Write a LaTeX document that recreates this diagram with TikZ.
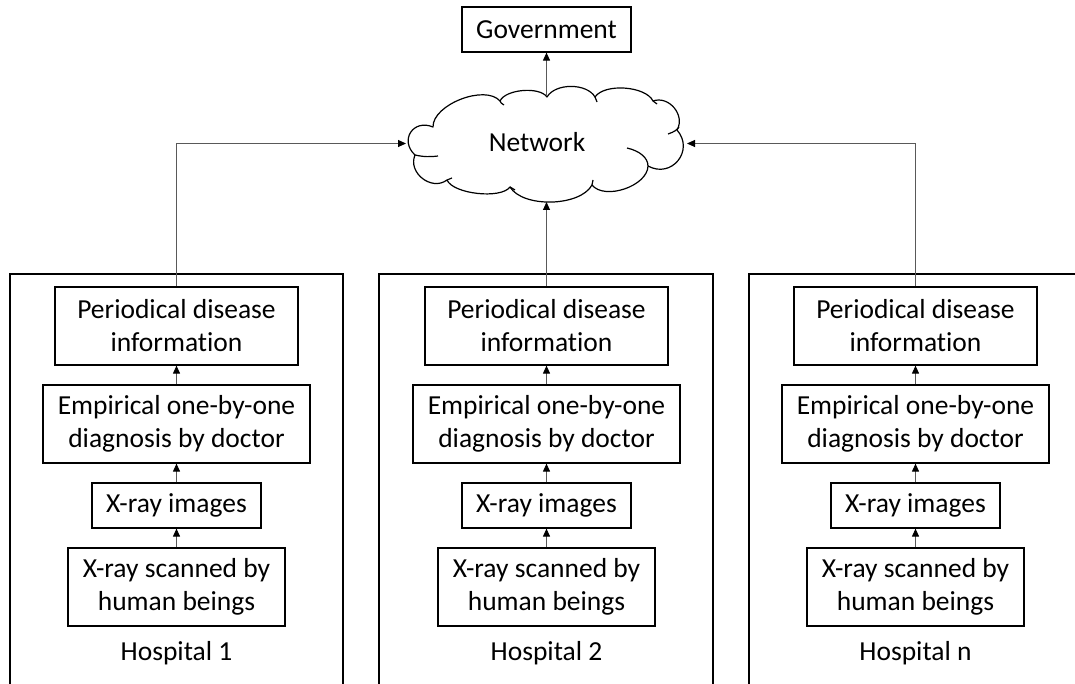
\documentclass[tikz,border=0pt]{standalone}
\usepackage{fontspec}
\setmainfont{Carlito}[Ligatures=NoCommon]
\usetikzlibrary{arrows.meta}
\begin{document}
\begin{tikzpicture}[x=1pt,y=-1pt,
  every node/.style={font=\fontsize{27.5}{33}\selectfont, align=center, inner sep=0pt},
  stepbox/.style={draw=black, line width=1.2pt, minimum height=78pt},
  shortbox/.style={draw=black, line width=1.2pt, minimum height=45pt},
  hospbox/.style={draw=black, line width=1.2pt},
  cloudline/.style={draw=black, line width=1.2pt, line join=round},
  link/.style={draw=black!65, line width=1pt, -{Triangle[length=8pt,width=7pt,fill=black,color=black]}}
]
\useasboundingbox (0,0) rectangle (1075,684);
\clip (0,0) rectangle (1075,684);

% hospital frames
\draw[hospbox] (10,274) rectangle (343,690);
\draw[hospbox] (379,274) rectangle (713,690);
\draw[hospbox] (749,274) rectangle (1083,690);

% government
\node[shortbox, minimum width=169pt] (gov) at (546.5,29.5) {Government};

% network cloud: outline of puffs, then the short inner folds
\draw[cloudline]
  (433,127) to[bend left=70, looseness=0.80] (500,101)
            to[bend left=60, looseness=0.71] (547,97)
            to[bend left=60, looseness=0.87] (595,97)
            to[bend left=60, looseness=0.74] (653,101)
            to[bend left=70, looseness=1.15] (677,130)
            to[bend left=80, looseness=1.50] (648,166)
            to[bend left=70, looseness=0.87] (592,185)
            to[bend left=60, looseness=0.77] (510,187)
            to[bend left=60, looseness=0.62] (447,180)
            to[bend left=75, looseness=1.21] (415,155)
            to[bend left=80, looseness=1.66] cycle;
\draw[cloudline] (415,155) .. controls (424,157) and (430,157) .. (438,156);
\draw[cloudline] (627,148) .. controls (640,151) and (648,158) .. (648,166);
\draw[cloudline] (668,134) .. controls (674,132) and (677,130) .. (679,127);
\draw[cloudline] (500,101) .. controls (501,103) .. (504,105);
\draw[cloudline] (595,97) .. controls (596,99) .. (597,102);
\draw[cloudline] (653,101) .. controls (655,102) .. (657,104);
\draw[cloudline] (592,185) .. controls (592,183) .. (593,180);
\draw[cloudline] (510,187) .. controls (512,188) .. (515,190);
\draw[cloudline] (447,180) .. controls (449,179) .. (452,178);
\node (net) at (537,142) {Network};
\coordinate (netW) at (406,143.5);
\coordinate (netE) at (687,143.5);
\coordinate (netS) at (546.5,202);
\coordinate (netN) at (546.5,96.5);

% one column of process steps per hospital
\foreach \c/\n/\lab in {176.5/1/1, 546.5/2/2, 915.5/3/n}{
  \node[stepbox, minimum width=243pt] (p\n) at (\c,326) {Periodical disease\\information};
  \node[stepbox, minimum width=267pt] (e\n) at (\c,424) {Empirical one-by-one\\diagnosis by doctor};
  \node[shortbox, minimum width=169pt] (x\n) at (\c,505.5) {X-ray images};
  \node[stepbox, minimum width=217pt] (s\n) at (\c,587) {X-ray scanned by\\human beings};
  \node (h\n) at (\c,653) {Hospital \lab};
  \draw[link] (s\n) -- (x\n);
  \draw[link] (x\n) -- (e\n);
  \draw[link] (e\n) -- (p\n);
}

% reporting links to the network and government
\draw[link] (p1.north) |- (netW);
\draw[link] (p3.north) |- (netE);
\draw[link] (p2.north) -- (netS);
\draw[link] (netN) -- (gov.south);
\end{tikzpicture}
\end{document}
